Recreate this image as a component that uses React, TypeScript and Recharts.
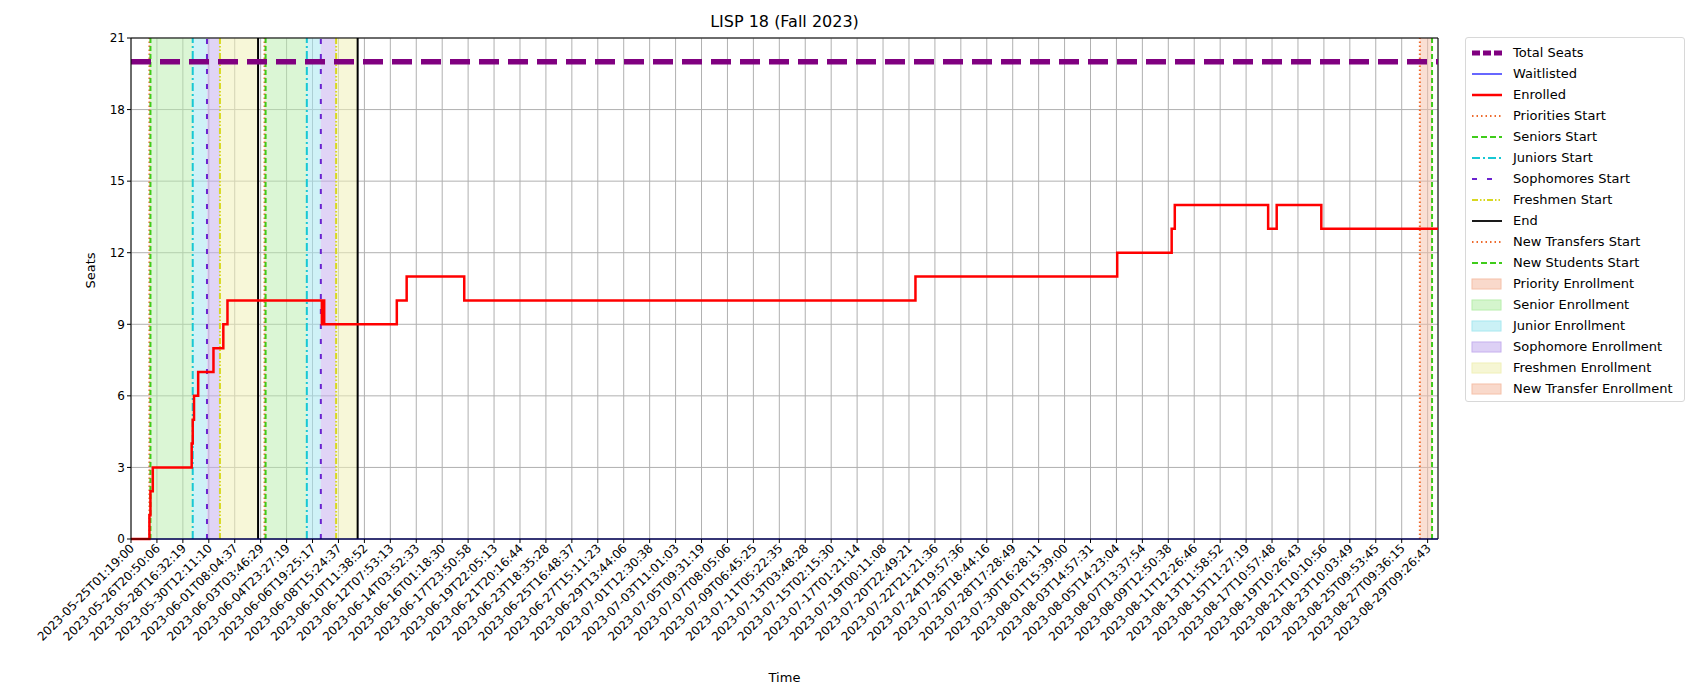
import React from "react";
import {
  ComposedChart,
  Line,
  XAxis,
  YAxis,
  CartesianGrid,
  ReferenceLine,
  ReferenceArea,
} from "recharts";

// x positions are snapshot indices; a tick label every 10 snapshots
const tickLabels = [
  "2023-05-25T01:19:00", "2023-05-26T20:50:06", "2023-05-28T16:32:19", "2023-05-30T12:11:10",
  "2023-06-01T08:04:37", "2023-06-03T03:46:29", "2023-06-04T23:27:19", "2023-06-06T19:25:17",
  "2023-06-08T15:24:37", "2023-06-10T11:38:52", "2023-06-12T07:53:13", "2023-06-14T03:52:33",
  "2023-06-16T01:18:30", "2023-06-17T23:50:58", "2023-06-19T22:05:13", "2023-06-21T20:16:44",
  "2023-06-23T18:35:28", "2023-06-25T16:48:37", "2023-06-27T15:11:23", "2023-06-29T13:44:06",
  "2023-07-01T12:30:38", "2023-07-03T11:01:03", "2023-07-05T09:31:19", "2023-07-07T08:05:06",
  "2023-07-09T06:45:25", "2023-07-11T05:22:35", "2023-07-13T03:48:28", "2023-07-15T02:15:30",
  "2023-07-17T01:21:14", "2023-07-19T00:11:08", "2023-07-20T22:49:21", "2023-07-22T21:21:36",
  "2023-07-24T19:57:36", "2023-07-26T18:44:16", "2023-07-28T17:28:49", "2023-07-30T16:28:11",
  "2023-08-01T15:39:00", "2023-08-03T14:57:31", "2023-08-05T14:23:04", "2023-08-07T13:37:54",
  "2023-08-09T12:50:38", "2023-08-11T12:26:46", "2023-08-13T11:58:52", "2023-08-15T11:27:19",
  "2023-08-17T10:57:48", "2023-08-19T10:26:43", "2023-08-21T10:10:56", "2023-08-23T10:03:49",
  "2023-08-25T09:53:45", "2023-08-27T09:36:15", "2023-08-29T09:26:43",
];
const xMax = 504;

const enrolledIdx = [0, 7.1, 7.5, 8.4, 23.4, 23.8, 24.3, 24.7, 25.9, 31.8, 34.3, 35.6, 37.2, 73.6, 74.1, 74.5, 102.5, 106.3, 128.5, 302.5, 380.3, 401.3, 402.5, 438.5, 441.8, 459, 504];
const enrolledVal = [0, 1, 2, 3, 4, 5, 6, 6, 7, 8, 8, 9, 10, 9, 10, 9, 10, 11, 10, 11, 12, 13, 14, 13, 14, 13, 13];
const totalSeats = 20;
const waitlisted = 0;

// enrollment windows (two registration cycles + new transfers)
const prioritiesStart = [7.1, 51.5];
const seniorsStart = [7.5, 51.9];
const juniorsStart = [23.8, 67.8];
const sophomoresStart = [29.3, 73.2];
const freshmenStart = [34.3, 79.1];
const endTimes = [49, 87.4];
const newTransfersStart = 497;
const newStudentsStart = 501.7;

const yTicks = [0, 3, 6, 9, 12, 15, 18, 21];

const data = enrolledIdx.map((x, i) => ({
  x,
  enrolled: enrolledVal[i],
  total: totalSeats,
  waitlisted,
}));

const C = {
  prio: "#ee6a2c",
  senior: "#3fcc1a",
  junior: "#17c8d4",
  soph: "#6a22d0",
  fresh: "#d8d820",
  prioFill: "#f5c0a8",
  seniorFill: "#b8eeac",
  juniorFill: "#a8e8f0",
  sophFill: "#c6b0ee",
  freshFill: "#f0f0b8",
};

const Tick = (props: any) => {
  const { x, y, payload } = props;
  return (
    <text
      x={x + 4}
      y={y + 4}
      transform={`rotate(-45 ${x + 4} ${y + 4})`}
      textAnchor="end"
      fontSize={12}
      fill="#000"
    >
      {tickLabels[Math.round(payload.value / 10)]}
    </text>
  );
};

const legendItems: { label: string; kind: string; color: string; dash?: string; w?: number }[] = [
  { label: "Total Seats", kind: "line", color: "purple", dash: "8 3", w: 5 },
  { label: "Waitlisted", kind: "line", color: "blue", w: 1.2 },
  { label: "Enrolled", kind: "line", color: "red", w: 2.5 },
  { label: "Priorities Start", kind: "line", color: C.prio, dash: "1.5 3", w: 1.8 },
  { label: "Seniors Start", kind: "line", color: C.senior, dash: "6 3", w: 1.8 },
  { label: "Juniors Start", kind: "line", color: C.junior, dash: "8 3 2 3", w: 1.8 },
  { label: "Sophomores Start", kind: "line", color: C.soph, dash: "5 10", w: 1.8 },
  { label: "Freshmen Start", kind: "line", color: C.fresh, dash: "6 2 1.5 2 1.5 2", w: 1.8 },
  { label: "End", kind: "line", color: "#000", w: 1.8 },
  { label: "New Transfers Start", kind: "line", color: C.prio, dash: "1.5 3", w: 1.8 },
  { label: "New Students Start", kind: "line", color: C.senior, dash: "6 3", w: 1.8 },
  { label: "Priority Enrollment", kind: "box", color: C.prioFill },
  { label: "Senior Enrollment", kind: "box", color: C.seniorFill },
  { label: "Junior Enrollment", kind: "box", color: C.juniorFill },
  { label: "Sophomore Enrollment", kind: "box", color: C.sophFill },
  { label: "Freshmen Enrollment", kind: "box", color: C.freshFill },
  { label: "New Transfer Enrollment", kind: "box", color: C.prioFill },
];

export default function App() {
  const font = "DejaVu Sans, sans-serif";
  return (
    <div style={{ position: "absolute", left: 0, top: 0, width: 1700, height: 700, background: "#fff", fontFamily: font }}>
      <div style={{ position: "absolute", left: 131, width: 1307, top: 12, textAlign: "center", fontSize: 16 }}>
        LISP 18 (Fall 2023)
      </div>
      <ComposedChart
        width={1700}
        height={700}
        data={data}
        margin={{ top: 38, right: 262, bottom: 0, left: 0 }}
        style={{ fontFamily: font }}
      >
        <CartesianGrid stroke="#b0b0b0" />
        {[0, 1].map((c) => (
          <React.Fragment key={c}>
            <ReferenceArea x1={prioritiesStart[c]} x2={seniorsStart[c]} fill={C.prioFill} fillOpacity={0.5} />
            <ReferenceArea x1={seniorsStart[c]} x2={juniorsStart[c]} fill={C.seniorFill} fillOpacity={0.5} />
            <ReferenceArea x1={juniorsStart[c]} x2={sophomoresStart[c]} fill={C.juniorFill} fillOpacity={0.55} />
            <ReferenceArea x1={sophomoresStart[c]} x2={freshmenStart[c]} fill={C.sophFill} fillOpacity={0.55} />
            <ReferenceArea x1={freshmenStart[c]} x2={endTimes[c]} fill={C.freshFill} fillOpacity={0.55} />
            <ReferenceLine x={prioritiesStart[c]} stroke={C.prio} strokeDasharray="1.5 2.5" strokeWidth={2} />
            <ReferenceLine x={seniorsStart[c]} stroke={C.senior} strokeDasharray="5 3" strokeWidth={2} />
            <ReferenceLine x={juniorsStart[c]} stroke={C.junior} strokeDasharray="8 3 2 3" strokeWidth={2} />
            <ReferenceLine x={sophomoresStart[c]} stroke={C.soph} strokeDasharray="5 10" strokeWidth={2} />
            <ReferenceLine x={freshmenStart[c]} stroke={C.fresh} strokeDasharray="6 2 1.5 2 1.5 2" strokeWidth={2} />
            <ReferenceLine x={endTimes[c]} stroke="#000" strokeWidth={2} />
          </React.Fragment>
        ))}
        <ReferenceArea x1={newTransfersStart} x2={newStudentsStart} fill={C.prioFill} fillOpacity={0.5} />
        <ReferenceLine x={newTransfersStart} stroke={C.prio} strokeDasharray="1.5 2.5" strokeWidth={2} />
        <ReferenceLine x={newStudentsStart} stroke={C.senior} strokeDasharray="5 3" strokeWidth={2} />
        <XAxis
          dataKey="x"
          type="number"
          domain={[0, xMax]}
          ticks={tickLabels.map((_, i) => i * 10)}
          interval={0}
          tick={<Tick />}
          height={161}
          stroke="#000"
          tickSize={4}
          label={{ value: "Time", position: "insideBottom", offset: 18, fontSize: 13, fill: "#000" }}
        />
        <YAxis
          domain={[0, 21]}
          ticks={yTicks}
          width={131}
          stroke="#000"
          tickSize={4}
          tick={{ fontSize: 12, fill: "#000" }}
          label={{ value: "Seats", angle: -90, position: "insideLeft", offset: 90, fontSize: 13, fill: "#000" }}
        />
        <ReferenceLine y={21} stroke="#000" />
        <ReferenceLine x={xMax} stroke="#000" />
        <Line dataKey="total" stroke="purple" strokeWidth={5.5} strokeDasharray="20 9" dot={false} isAnimationActive={false} />
        <Line dataKey="waitlisted" stroke="blue" strokeWidth={1.2} dot={false} isAnimationActive={false} />
        <Line type="stepAfter" dataKey="enrolled" stroke="red" strokeWidth={2.5} dot={false} isAnimationActive={false} />
      </ComposedChart>
      <div
        style={{
          position: "absolute",
          left: 1465,
          top: 37,
          width: 218,
          border: "1px solid #d8d8d8",
          borderRadius: 3,
          padding: "4px 0 2px 0",
          fontSize: 13,
          background: "#fff",
        }}
      >
        {legendItems.map((it) => (
          <div key={it.label} style={{ display: "flex", alignItems: "center", height: 21 }}>
            <svg width={32} height={12} style={{ marginLeft: 5, marginRight: 10 }}>
              {it.kind === "line" ? (
                <line x1={1} x2={31} y1={6} y2={6} stroke={it.color} strokeWidth={it.w} strokeDasharray={it.dash} />
              ) : (
                <rect x={1} y={1} width={29} height={10} fill={it.color} fillOpacity={0.6} stroke={it.color} />
              )}
            </svg>
            <span>{it.label}</span>
          </div>
        ))}
      </div>
    </div>
  );
}
